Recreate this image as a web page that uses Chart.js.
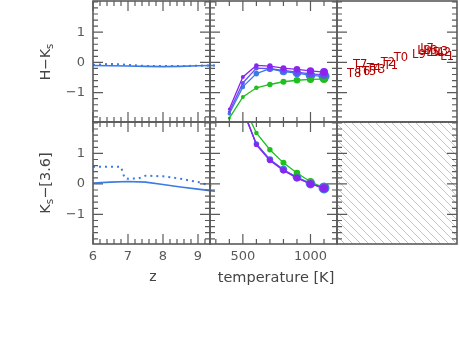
<!DOCTYPE html>
<html><head><meta charset="utf-8">
<script src="https://cdn.jsdelivr.net/npm/chart.js@4.4.0/dist/chart.umd.min.js"></script>
<style>
html,body{margin:0;padding:0;background:#fff;width:460px;height:338px;overflow:hidden;}
#wrap{position:relative;width:460px;height:338px;}
canvas{position:absolute;left:0;top:0;}
.lab{position:absolute;white-space:nowrap;font-family:"DejaVu Sans";color:#444;font-size:14px;line-height:1;transform:translate(-50%,-50%);}
.rot{transform:translate(-50%,-50%) rotate(-90deg);}
.lab sub{font-size:72%;vertical-align:-0.3em;line-height:0;}
</style></head><body>
<div id="wrap">
<canvas id="c1" width="460" height="338"></canvas>
<canvas id="c2" width="460" height="338"></canvas>
<canvas id="c3" width="460" height="338"></canvas>
<canvas id="c4" width="460" height="338"></canvas>
<canvas id="c5" width="460" height="338"></canvas>
<canvas id="c6" width="460" height="338"></canvas>
<div class="lab rot" style="left:45px;top:62px;font-size:14px">H−K<sub>s</sub></div>
<div class="lab rot" style="left:45px;top:183px;font-size:14.5px">K<sub>s</sub>−[3.6]</div>
<div class="lab" style="left:153px;top:276px">z</div>
<div class="lab" style="left:276px;top:277px;font-size:14.5px">temperature [K]</div>
</div>
<script>
// ---------------- data ----------------
const zTop = [6.0, 6.5, 7.0, 7.5, 8.0, 8.5, 9.0, 9.34, 9.5];
const hkSolid = [-0.10, -0.11, -0.12, -0.13, -0.14, -0.13, -0.11, -0.10, -0.10];
const hkDotted = [-0.08, -0.05, -0.08, -0.12, -0.12, -0.12, -0.11, -0.10, -0.10];
const zKsSolid = [6.0, 6.5, 7.0, 7.5, 8.0, 8.5, 9.0, 9.34, 9.5];
const ksSolid = [0.03, 0.06, 0.08, 0.06, -0.02, -0.10, -0.17, -0.22, -0.24];
const zKsDotted = [6.0, 6.4, 6.8, 6.9, 7.0, 7.3, 7.5, 8.0, 8.5, 9.0, 9.34, 9.5];
const ksDotted = [0.56, 0.56, 0.56, 0.20, 0.17, 0.18, 0.27, 0.25, 0.17, 0.06, -0.05, -0.08];

const temps = [400, 500, 600, 700, 800, 900, 1000, 1100];
const hkPurple = [-1.54, -0.48, -0.10, -0.12, -0.19, -0.23, -0.28, -0.32];
const hkViolet = [-1.63, -0.68, -0.19, -0.21, -0.26, -0.32, -0.38, -0.41];
const hkBlue   = [-1.70, -0.81, -0.37, -0.21, -0.30, -0.35, -0.43, -0.46];
const hkGreen  = [-1.84, -1.14, -0.84, -0.73, -0.64, -0.59, -0.56, -0.55];
const ksPurple = [4.5, 2.45, 1.28, 0.77, 0.44, 0.19, 0.00, -0.14];
const ksViolet = [4.4, 2.45, 1.30, 0.79, 0.46, 0.21, 0.01, -0.13];
const ksBlue   = [4.3, 2.40, 1.31, 0.80, 0.47, 0.22, 0.01, -0.13];
const ksGreen  = [4.0, 2.60, 1.67, 1.12, 0.69, 0.36, 0.07, -0.13];

const specTypes = ['T8','T7','T6','T5','T4','T3','T2','T1','T0','L9','L8','L7','L6','L5','L4','L3','L2','L1'];
const specKs36  = [-1.40,-1.20,-1.10,-0.90,-0.74,-0.60,-0.27,-0.17,0.16,0.76,0.93,1.03,1.13,1.23,1.36,1.50,1.60,1.70];
const specHK    = [-0.37,-0.07,-0.33,-0.32,-0.22,-0.25,-0.02,-0.12,0.15,0.24,0.38,0.44,0.38,0.31,0.31,0.34,0.31,0.18];

// tick arrays
const colorRange = [-1.97, 2.03];
const zRange = [6, 9.343];
const tRange = [257, 1196];
const yMajor = [-1, 0, 1];
const yMinor = [-1.8,-1.6,-1.4,-1.2,-0.8,-0.6,-0.4,-0.2,0.2,0.4,0.6,0.8,1.2,1.4,1.6,1.8,2.0];
const zMajor = [6, 7, 8, 9];
const zMinor = [6.2,6.4,6.6,6.8,7.2,7.4,7.6,7.8,8.2,8.4,8.6,8.8,9.2];
const tMajor = [500, 1000];
const tMinor = [300, 400, 600, 700, 800, 900, 1100];

// ---------------- style ----------------
const W = 460, H = 338, YW = 30, XH = 30;
const FONT = 'DejaVu Sans';
const C_PURPLE = '#8c24f0', C_VIOLET = '#6650f0', C_BLUE = '#3b7be4', C_GREEN = '#1fbf1f';
const C_FRAME = '#5a5a5a', C_TICKLAB = '#585858';

const toXY = (xs, ys) => xs.map((x, i) => ({x: x, y: ys[i]}));
const fmt = v => (v < 0 ? '−' + Math.abs(v) : String(v));

const framePlugin = {
  id: 'frame',
  afterDatasetsDraw(chart, args, o) {
    const {ctx, chartArea: a, scales: {x, y}} = chart;
    ctx.save();
    ctx.strokeStyle = C_FRAME;
    ctx.lineWidth = 1.2;
    ctx.beginPath();
    const xt = (vals, len) => vals.forEach(v => {
      if (v < x.min || v > x.max) return;
      const p = x.getPixelForValue(v);
      if (o.xSides.includes('b')) { ctx.moveTo(p, a.bottom); ctx.lineTo(p, a.bottom - len); }
      if (o.xSides.includes('t')) { ctx.moveTo(p, a.top); ctx.lineTo(p, a.top + len); }
    });
    const yt = (vals, len) => vals.forEach(v => {
      if (v < y.min || v > y.max) return;
      const p = y.getPixelForValue(v);
      if (o.ySides.includes('l')) { ctx.moveTo(a.left, p); ctx.lineTo(a.left + len, p); }
      if (o.ySides.includes('r')) { ctx.moveTo(a.right, p); ctx.lineTo(a.right - len, p); }
    });
    xt(o.xMajor || [], 10); xt(o.xMinor || [], 5);
    yt(o.yMajor || [], 10); yt(o.yMinor || [], 5);
    ctx.stroke();
    ctx.lineWidth = 1.6;
    ctx.strokeRect(a.left, a.top, a.right - a.left, a.bottom - a.top);
    ctx.restore();
  }
};

const hatchPlugin = {
  id: 'hatch',
  beforeDatasetsDraw(chart) {
    const {ctx, chartArea: a} = chart;
    ctx.save();
    ctx.beginPath(); ctx.rect(a.left, a.top, a.right - a.left, a.bottom - a.top); ctx.clip();
    ctx.strokeStyle = '#c6c6c6'; ctx.lineWidth = 1;
    ctx.beginPath();
    const h = a.bottom - a.top;
    for (let s = a.left - h; s < a.right + 8; s += 8) { ctx.moveTo(s, a.top); ctx.lineTo(s + h, a.bottom); }
    ctx.stroke();
    ctx.restore();
  }
};

const textPlugin = {
  id: 'spectext',
  afterDatasetsDraw(chart) {
    const {ctx} = chart;
    const meta = chart.getDatasetMeta(0);
    ctx.save();
    ctx.font = '11.5px "' + FONT + '"';
    ctx.fillStyle = '#b30000';
    ctx.textAlign = 'center'; ctx.textBaseline = 'middle';
    meta.data.forEach((el, i) => ctx.fillText(specTypes[i], el.x, el.y));
    ctx.restore();
  }
};

function panel(id, o) {
  const showX = !!o.xLabels, showY = !!o.yLabels;
  const [L, T, R, B] = o.box;
  const tickFont = {family: FONT, size: 13};
  return new Chart(document.getElementById(id), {
    type: 'scatter',
    data: {datasets: o.datasets || []},
    options: {
      responsive: false, animation: false, devicePixelRatio: 1,
      layout: {autoPadding: false, padding: {left: L - (showY ? YW : 0), top: T, right: W - R, bottom: H - B - (showX ? XH : 0)}},
      plugins: {legend: {display: false}, tooltip: {enabled: false},
        frame: {xSides: o.xSides, ySides: o.ySides, xMajor: o.xMajor, xMinor: o.xMinor, yMajor: yMajor, yMinor: yMinor}},
      scales: {
        x: {type: 'linear', position: 'bottom', min: o.xr[0], max: o.xr[1], display: showX,
          grid: {display: false, drawTicks: false}, border: {display: false},
          ticks: {padding: 5, color: C_TICKLAB, font: tickFont, maxRotation: 0, autoSkip: false, callback: fmt},
          afterBuildTicks: s => { s.ticks = (o.xLabels || []).map(v => ({value: v})); },
          afterFit: s => { if (showX) s.height = XH; s.paddingLeft = 0; s.paddingRight = 0; s.paddingTop = 0; s.paddingBottom = 0; }},
        y: {type: 'linear', position: 'left', min: colorRange[0], max: colorRange[1], display: showY,
          grid: {display: false, drawTicks: false}, border: {display: false},
          ticks: {padding: 8, color: C_TICKLAB, font: tickFont, autoSkip: false, callback: fmt},
          afterBuildTicks: s => { s.ticks = (o.yLabels || []).map(v => ({value: v})); },
          afterFit: s => { if (showY) s.width = YW; s.paddingLeft = 0; s.paddingRight = 0; s.paddingTop = 0; s.paddingBottom = 0; }}
      }
    },
    plugins: [framePlugin].concat(o.plugins || [])
  });
}

const zLine = (xs, ys, dashed) => ({data: toXY(xs, ys), showLine: true, borderColor: C_BLUE, borderWidth: dashed ? 2 : 1.6,
  borderDash: dashed ? [2, 4] : [], pointRadius: 0, clip: {left: 0, top: 0, right: 5, bottom: 0}});
const smallR = [1.5, 2, 2.3, 2.7, 3, 3.3, 3.7, 4];
const bigR = [1.8, 2.3, 2.8, 3.3, 3.8, 4.3, 4.8, 5.5];
const tLine = (ys, col, radii) => ({data: toXY(temps, ys), showLine: true, borderColor: col, backgroundColor: col,
  borderWidth: 1.3, pointRadius: radii, pointBorderWidth: 0, pointBackgroundColor: col});

// top-left
panel('c1', {box: [93, 1, 210, 122], xr: zRange, yLabels: yMajor, xSides: 'tb', ySides: 'lr', xMajor: zMajor, xMinor: zMinor,
  datasets: [zLine(zTop, hkDotted, true), zLine(zTop, hkSolid, false)]});
// bottom-left
panel('c2', {box: [93, 122, 210, 244], xr: zRange, yLabels: yMajor, xLabels: zMajor, xSides: 'tb', ySides: 'lr', xMajor: zMajor, xMinor: zMinor,
  datasets: [zLine(zKsDotted, ksDotted, true), zLine(zKsSolid, ksSolid, false)]});
// top-middle
panel('c3', {box: [210, 1, 337, 122], xr: tRange, xSides: 'tb', ySides: 'lr', xMajor: tMajor, xMinor: tMinor,
  datasets: [tLine(hkPurple, C_PURPLE, smallR), tLine(hkViolet, C_VIOLET, smallR), tLine(hkGreen, C_GREEN, smallR), tLine(hkBlue, C_BLUE, bigR)]});
// bottom-middle
panel('c4', {box: [210, 122, 337, 244], xr: tRange, xLabels: tMajor, xSides: 'tb', ySides: 'lr', xMajor: tMajor, xMinor: tMinor,
  datasets: [tLine(ksPurple, C_PURPLE, smallR), tLine(ksViolet, C_VIOLET, smallR), tLine(ksGreen, C_GREEN, smallR), tLine(ksBlue, C_BLUE, bigR)]});
// top-right: spectral type labels
panel('c5', {box: [337, 1, 457, 122], xr: colorRange, xSides: '', ySides: 'lr',
  datasets: [{data: toXY(specKs36, specHK), pointRadius: 0, showLine: false}], plugins: [textPlugin]});
// bottom-right: hatched
panel('c6', {box: [337, 122, 457, 244], xr: colorRange, xSides: '', ySides: 'lr', datasets: [], plugins: [hatchPlugin]});
</script>
</body></html>
